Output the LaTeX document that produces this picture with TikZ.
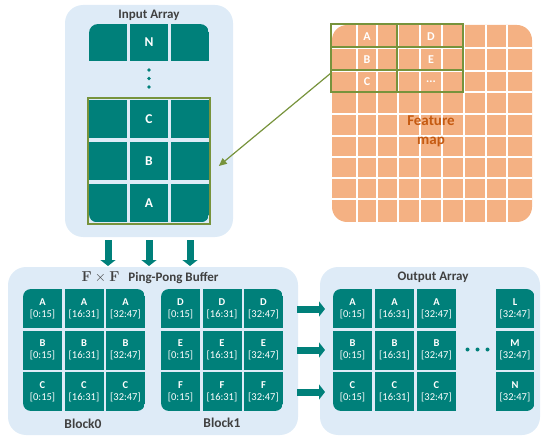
\documentclass[tikz,border=0pt]{standalone}
\usepackage[no-math]{fontspec}
\setmainfont{Carlito}
\usetikzlibrary{arrows.meta,calc}
\definecolor{tealc}{HTML}{00807A}
\definecolor{panelc}{HTML}{DEEBF7}
\definecolor{orangec}{HTML}{F4B183}
\definecolor{selc}{HTML}{77933C}
\definecolor{fmtext}{HTML}{C55A11}
\definecolor{titlec}{HTML}{404040}
% letter on the first line, index range on the second
\newcommand\rng[2]{\textbf{#1}\\{}[#2]}
\begin{document}
\begin{tikzpicture}[x=1pt,y=-1pt,
  panel/.style={rectangle, fill=panelc, rounded corners=18pt, inner sep=0pt},
  title/.style={text=titlec, font=\fontsize{13}{15}\selectfont\bfseries, inner sep=0pt},
  cell/.style={rectangle, fill=tealc, inner sep=0pt, minimum width=39pt, minimum height=39pt,
    text=white, align=center, font=\fontsize{10.5}{12}\selectfont},
  bigcell/.style={rectangle, fill=tealc, inner sep=0pt, minimum width=38pt,
    text=white, font=\fontsize{13.5}{15}\selectfont\bfseries},
  fmlabel/.style={text=white, font=\fontsize{12}{13}\selectfont\bfseries, inner sep=0pt},
  selbox/.style={draw=selc, line width=1.6pt, inner sep=0pt},
  blockarrow/.style={draw=tealc, line width=7pt, -{Triangle[width=15pt,length=6pt]}},
  linkarrow/.style={draw=selc, line width=1.2pt, -{Triangle[width=7pt,length=8pt]}}
]
\useasboundingbox (0,0) rectangle (544,441);

% ---------- panels ----------
\node[panel, minimum width=168pt, minimum height=232pt] (inpanel) at (149,121) {};
\node[panel, minimum width=290pt, minimum height=168pt] (bufpanel) at (153,351) {};
\node[panel, minimum width=220pt, minimum height=168pt] (outpanel) at (430,351) {};

\node[title] (intitle) at (149,15) {Input Array};
\node[title] (buftitle) at (150,278) {{\fontsize{14}{15}\selectfont$\mathbf{F}\times\mathbf{F}$}\hspace{9pt}Ping-Pong Buffer};
\node[title] (outtitle) at (433,277) {Output Array};

% ---------- input array ----------
\begin{scope}
  \clip[rounded corners=9pt] (89,24) rectangle (209,80);
  \foreach \x [count=\c] in {108,149,190}
    \node[bigcell, minimum height=37pt] (inN-\c) at (\x,42.5) {\ifnum\c=2 N\fi};
\end{scope}
\fill[tealc] (149,70) circle (1.8pt) (149,78.5) circle (1.8pt) (149,87) circle (1.8pt);

\begin{scope}
  \clip[rounded corners=8pt] (89,80) rectangle (209,222.25);
  \foreach \L/\y [count=\r] in {C/119,B/161,A/203}
    \foreach \x [count=\c] in {108,149,190}
      \node[bigcell, minimum height=38.5pt] (in-\r-\c) at (\x,\y) {\ifnum\c=2 \L\fi};
\end{scope}
\node[selbox, minimum width=122pt, minimum height=126pt] (insel) at (149,161) {};

% ---------- feature map ----------
\fill[orangec, rounded corners=15pt] (332,25) rectangle (532,222);
\begin{scope}
  \clip[rounded corners=15pt] (332,25) rectangle (532,222);
  \foreach \x in {357,377,398,420,442,464,486,507}
    \draw[white, line width=1.3pt] (\x,25) -- (\x,222);
  \foreach \y in {48,71,92,114,136,157,178,199}
    \draw[white, line width=1.3pt] (332,\y) -- (532,\y);
\end{scope}
\node[selbox, minimum width=132pt, minimum height=68pt] (fmsel) at (397,58) {};
\draw[selc, line width=1.6pt] (fmsel.north) -- (fmsel.south);
\draw[selc, line width=1.6pt] ($(fmsel.north west)+(0,24)$) -- ($(fmsel.north east)+(0,24)$);
\draw[selc, line width=1.6pt] ($(fmsel.north west)+(0,47)$) -- ($(fmsel.north east)+(0,47)$);
\node[fmlabel] (fmA) at (367,36.5) {A};
\node[fmlabel] (fmB) at (367,59.5) {B};
\node[fmlabel] (fmC) at (367,81.5) {C};
\node[fmlabel] (fmD) at (431,36.5) {D};
\node[fmlabel] (fmE) at (431,59.5) {E};
\node[fmlabel] (fmF) at (431,81.5) {...};
\node[text=fmtext, font=\fontsize{15}{19}\selectfont\bfseries, align=center, inner sep=0pt]
  (fmname) at (431,131.5) {Feature\\map};

\coordinate (fmtap) at (331,73);
\draw[linkarrow] (fmtap) -- ($(insel.east)+(8,5)$);

% ---------- input -> buffer ----------
\foreach \x [count=\i] in {108,149,190} {
  \coordinate (dn\i a) at (\x,240);
  \coordinate (dn\i b) at (\x,266);
  \draw[blockarrow] (dn\i a) -- (dn\i b);
}

% ---------- ping-pong buffer ----------
\begin{scope}
  \clip[rounded corners=8pt] (23,289) rectangle (145,411);
  \foreach \L [count=\r] in {A,B,C}
    \foreach \R [count=\c] in {0:15,16:31,32:47}
      \node[cell] (bA-\r-\c) at ({42.5+41.5*(\c-1)},{308.5+41.5*(\r-1)}) {\rng{\L}{\R}};
\end{scope}
\begin{scope}
  \clip[rounded corners=8pt] (161,289) rectangle (283,411);
  \foreach \L [count=\r] in {D,E,F}
    \foreach \R [count=\c] in {0:15,16:31,32:47}
      \node[cell] (bB-\r-\c) at ({180.5+41.5*(\c-1)},{308.5+41.5*(\r-1)}) {\rng{\L}{\R}};
\end{scope}
\node[title, font=\fontsize{13.5}{15}\selectfont\bfseries] (blk0) at (83,424) {Block0};
\node[title, font=\fontsize{13.5}{15}\selectfont\bfseries] (blk1) at (222,423) {Block1};

% ---------- buffer -> output ----------
\foreach \y [count=\i] in {309,350,392} {
  \coordinate (rt\i a) at (297,\y);
  \coordinate (rt\i b) at (325,\y);
  \draw[blockarrow] (rt\i a) -- (rt\i b);
}

% ---------- output array ----------
\begin{scope}
  \clip[rounded corners=8pt] (333,289) rectangle (480,411);
  \foreach \L [count=\r] in {A,B,C}
    \foreach \R [count=\c] in {0:15,16:31,32:47}
      \node[cell] (o-\r-\c) at ({352.5+42*(\c-1)},{308.5+41.5*(\r-1)}) {\rng{\L}{\R}};
\end{scope}
\begin{scope}
  \clip[rounded corners=8pt] (470,289) rectangle (534.5,411);
  \foreach \L [count=\r] in {L,M,N}
    \node[cell] (oz-\r) at (515,{308.5+41.5*(\r-1)}) {\rng{\L}{32:47}};
\end{scope}
\fill[tealc] (467.5,349.5) circle (2pt) (477.5,349.5) circle (2pt) (487.5,349.5) circle (2pt);

\end{tikzpicture}
\end{document}
